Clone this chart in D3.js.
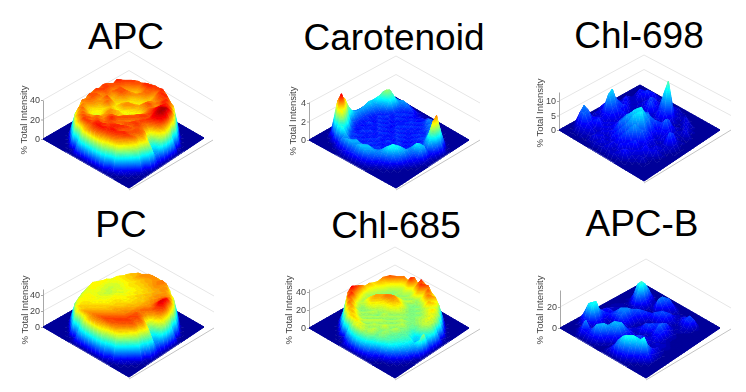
<!DOCTYPE html>
<html>
<head>
<meta charset="utf-8">
<script src="https://cdn.jsdelivr.net/npm/d3@7"></script>
<style>
  html, body { margin: 0; background: #fff; }
  svg { display: block; }
</style>
</head>
<body>
<div id="chart"></div>
<script>
// Heights, one row per line: back-right edge first, front-left edge last
const gridApc = [
  [0,0,0,0,0,0,0,0,0,0,0,0,0,0,0,0,0,0,0,0,0,0,0,0],
  [0,0,0,0,0,0,0,0,0,0,0,0,0,0,0,0,0,0,0,0,0,0,0,0],
  [0,0,0,0,0,0,0,0,0,8,18,26,30,30,26,18,8,0,0,0,0,0,0,0],
  [0,0,0,0,0,0,0,2,6,30,35,36,37,37,38,35,30,6,2,0,0,0,0,0],
  [0,0,0,0,0,1,4,30,36,36,38,38,36,33,37,38,38,34,31,5,1,0,0,0],
  [0,0,0,0,1,4,30,37,36,33,33,35,35,31,34,36,36,38,34,30,4,1,0,0],
  [0,0,0,0,3,28,37,35,33,30,31,34,33,30,32,33,35,38,38,36,30,4,0,0],
  [0,0,0,2,22,38,36,33,31,33,33,31,29,31,34,34,32,35,39,39,37,26,2,0],
  [0,0,0,3,30,36,35,36,36,34,30,29,28,30,35,36,34,36,40,41,42,30,3,0],
  [0,0,1,20,36,36,33,36,36,33,29,28,31,32,32,33,35,37,40,43,44,38,20,0],
  [0,0,2,26,37,37,34,32,32,30,31,33,33,30,28,29,34,36,38,42,44,40,26,0],
  [0,0,3,30,35,37,35,31,30,28,32,33,29,27,28,31,33,36,36,40,41,38,28,0],
  [0,0,4,32,37,33,33,36,34,29,28,28,27,28,31,32,36,37,35,38,36,32,22,0],
  [0,0,4,30,35,36,32,33,35,31,29,31,30,30,33,35,36,34,37,34,26,16,12,0],
  [0,0,3,28,36,36,33,31,29,31,33,32,30,32,35,36,33,36,36,34,24,14,10,0],
  [0,0,2,26,33,35,33,29,28,30,33,33,32,34,36,34,34,37,37,35,34,26,20,0],
  [0,0,1,22,34,33,30,28,26,28,32,34,36,36,34,35,36,34,35,36,35,31,16,0],
  [0,0,0,3,28,34,31,29,28,30,32,33,36,38,35,33,35,37,35,36,33,24,3,0],
  [0,0,0,2,24,33,35,32,31,33,35,33,34,36,36,37,38,35,36,35,35,22,2,0],
  [0,0,0,0,4,28,33,35,34,33,35,36,35,34,37,38,37,36,38,37,26,3,0,0],
  [0,0,0,0,1,4,30,34,36,36,34,36,38,38,36,38,39,38,36,28,4,1,0,0],
  [0,0,0,0,0,1,4,28,33,37,37,36,38,39,39,37,36,34,28,5,1,0,0,0],
  [0,0,0,0,0,0,0,2,5,20,30,32,34,34,32,28,20,5,2,0,0,0,0,0],
  [0,0,0,0,0,0,0,0,0,0,0,0,0,0,0,0,0,0,0,0,0,0,0,0]
];

const gridCarotenoid = [
  [0,0,0,0,0,0,0,0,0,0,0,0,0,0,0,0,0,0,0,0,0,0,0,0],
  [0,0,0,0,0,0,0,0,.1,.1,.2,.2,.1,.2,.1,0,0,0,0,0,0,0,0,0],
  [0,0,0,0,0,.1,.3,.6,.8,.6,.4,.3,.2,.3,.4,.4,.2,0,0,0,0,0,0,0],
  [0,0,0,0,.3,.9,1.2,1.4,1.2,.9,.6,.5,.6,.7,1,1.1,.8,.3,0,0,0,0,0,0],
  [0,0,0,.3,1.2,1.6,1.4,1.1,.8,.6,.8,.5,.7,.6,.9,1.3,1.2,1.1,.4,0,0,0,0,0],
  [0,0,.1,1,2,2.6,2.2,1,.6,.9,.5,.8,.6,.8,.6,.9,1.2,1.4,1.5,1,.3,0,0,0],
  [0,0,.3,1.3,2.4,2.8,2,.8,.9,.6,.8,.6,.9,.5,.8,.7,.9,1.1,1.6,2.2,1.8,.4,0,0],
  [0,0,.5,1.5,2.2,1.6,1,.7,.6,.9,.6,.8,.5,.9,.6,.8,.6,.8,1.3,2,2.9,2.4,.3,0],
  [0,0,.7,1.7,1.4,.9,.6,.9,.7,.5,.8,.6,.9,.6,.8,.5,.9,.6,1,1.5,2.8,4,1.4,0],
  [0,.1,1,1.8,1.2,.7,.9,.6,.8,.7,.5,.9,.6,.8,.5,.8,.6,.9,.8,1.1,2.2,3.6,1.2,0],
  [0,.1,1.1,1.6,1,.6,.7,.9,.5,.8,.6,.7,.9,.5,.8,.6,.8,.6,.7,.9,1.4,1.8,.7,0],
  [0,.2,1.1,1.5,.9,.8,.5,.7,.9,.6,.8,.5,.7,.9,.6,.8,.5,.8,.6,.8,.9,.8,.3,0],
  [0,.2,1.2,1.4,.9,.6,.9,.6,.7,.9,.5,.8,.6,.8,.9,.5,.7,.6,.8,1,1.6,1.6,.3,0],
  [0,.2,1.4,1.5,.8,.7,.5,.8,.6,.7,.9,.6,.8,.5,.7,.9,.6,.8,.7,1.4,1.9,1.4,.2,0],
  [0,.1,1.8,1.9,.9,.6,.8,.5,.9,.6,.7,.8,.5,.9,.6,.7,.8,.6,1,1.3,1.1,.6,.1,0],
  [0,.1,2.4,2.6,1.1,.7,.6,.9,.6,.8,.5,.9,.7,.6,.8,.6,.7,.9,1.2,1.4,.8,.3,0,0],
  [0,0,2.8,3.6,1.8,.9,.7,.6,.8,.5,.9,.6,.8,.7,.5,.8,.9,1.3,1.8,1.5,.5,.1,0,0],
  [0,0,2,4.2,3.6,1.4,.8,.9,.6,.8,.6,.9,.6,.9,.7,.9,1.3,2,1.9,1.1,.2,0,0,0],
  [0,0,.6,3.8,4.8,2.8,1.1,.7,.9,.6,.8,.6,.9,.7,.9,1.2,1.7,2,1.3,.4,0,0,0,0],
  [0,0,.1,1.2,3.4,3.4,1.8,1,.8,.9,.7,.9,1,1.1,1.2,1.3,1.4,1,.5,.1,0,0,0,0],
  [0,0,0,.1,.7,2,2.2,1.6,1.2,1.3,1.6,1.4,1.5,1.7,1.5,1.2,.7,.3,.1,0,0,0,0,0],
  [0,0,0,0,0,.2,.7,1.3,1.5,1.6,1.4,1.5,1.7,1.5,1,.6,.2,0,0,0,0,0,0,0],
  [0,0,0,0,0,0,0,.2,.4,.6,.7,.8,.6,.5,.3,.1,0,0,0,0,0,0,0,0],
  [0,0,0,0,0,0,0,0,0,0,0,0,0,0,0,0,0,0,0,0,0,0,0,0]
];

const gridChl698 = [
  [0,0,0,0,0,0,0,0,0,0,0,0,0,0,0,0,0,0,0,0,0,0,0,0],
  [0,0,0,0,0,0,0,0,0,0,0,0,0,0,0,0,0,0,0,0,0,0,0,0],
  [0,0,0,0,0,1,2,1,2,1,0,1,0,2,1,1,0,0,0,0,0,0,0,0],
  [0,0,0,1,2,3,2,4,1,2,0,2,3,1,2,0,2,1,0,0,0,0,0,0],
  [0,0,0,2,4,2,5,2,1,3,1,4,2,4,1,2,0,3,2,1,0,0,0,0],
  [0,0,0,1,2,4,1,3,2,5,3,2,5,7,3,1,1,0,3,1,1,0,0,0],
  [0,0,1,2,1,2,1,3,1,6,4,3,4,11,15,3,0,1,1,3,0,0,0,0],
  [0,0,0,3,2,1,2,0,3,4,6,2,4,5,5,2,1,2,0,2,3,1,0,0],
  [0,0,1,2,4,2,1,2,1,2,3,1,2,3,1,2,3,1,2,1,1,0,0,0],
  [0,0,2,1,3,4,2,1,2,0,2,3,1,2,3,1,4,6,1,2,0,1,0,0],
  [0,0,1,4,2,3,4,1,0,3,1,4,6,3,4,2,5,7,4,1,2,0,0,0],
  [0,0,3,2,6,3,5,1,3,1,2,5,4,7,5,6,2,4,3,1,5,2,0,0],
  [0,0,2,5,4,7,3,4,1,2,4,6,8,5,8,3,4,1,3,1,6,2,0,0],
  [0,0,3,4,7,11,6,2,3,2,3,7,5,9,7,8,3,2,0,2,2,1,0,0],
  [0,0,1,3,4,10,5,3,1,4,5,4,9,8,12,6,5,3,2,0,2,0,0,0],
  [0,0,2,1,3,4,3,1,3,2,4,8,6,11,8,12,6,3,1,3,1,1,0,0],
  [0,0,0,2,1,3,2,3,1,4,6,4,9,6,11,7,7,4,2,2,3,0,0,0],
  [0,0,1,3,2,4,3,1,3,2,3,7,4,8,5,9,3,2,4,3,1,0,0,0],
  [0,0,3,6,4,2,5,3,1,3,4,2,6,3,7,3,5,2,3,1,0,0,0,0],
  [0,0,5,8,7,4,2,1,3,1,2,4,2,5,2,4,1,3,2,2,0,0,0,0],
  [0,0,2,6,7,4,3,2,1,3,1,2,3,2,4,1,3,2,1,0,0,0,0,0],
  [0,0,0,2,3,2,1,2,3,1,3,1,3,1,2,3,4,1,0,0,0,0,0,0],
  [0,0,0,0,0,1,0,1,1,2,1,2,1,2,2,1,0,0,0,0,0,0,0,0],
  [0,0,0,0,0,0,0,0,0,0,0,0,0,0,0,0,0,0,0,0,0,0,0,0]
];

const gridPc = [
  [0,0,0,0,0,0,0,0,0,0,0,0,0,0,0,0,0,0,0,0,0,0,0,0],
  [0,0,0,0,0,0,0,0,0,0,0,0,0,0,0,0,0,0,0,0,0,0,0,0],
  [0,0,0,0,0,0,0,0,0,8,20,30,37,37,30,20,8,0,0,0,0,0,0,0],
  [0,0,0,0,0,0,0,2,6,36,41,42,42,41,43,42,36,6,2,0,0,0,0,0],
  [0,0,0,0,0,1,4,36,40,41,42,41,41,42,43,41,42,38,34,5,1,0,0,0],
  [0,0,0,0,1,4,36,39,39,41,39,40,40,41,42,41,42,41,40,34,4,1,0,0],
  [0,0,0,0,3,32,37,38,38,37,38,38,39,39,40,40,40,42,42,42,34,4,0,0],
  [0,0,0,2,24,36,36,36,36,37,37,37,37,38,38,40,41,42,43,45,42,28,2,0],
  [0,0,0,3,32,35,34,34,35,36,35,36,37,37,39,39,41,41,44,47,49,34,3,0],
  [0,0,1,22,35,34,33,33,33,34,35,36,36,38,38,39,40,42,43,47,51,42,22,0],
  [0,0,2,28,36,33,32,33,34,33,35,35,37,37,38,38,40,41,43,47,52,46,28,0],
  [0,0,3,34,36,34,32,32,33,35,35,36,36,37,38,39,40,41,42,44,47,44,32,0],
  [0,0,4,36,36,34,33,32,33,35,36,36,36,37,38,39,40,42,43,44,42,38,26,0],
  [0,0,4,34,36,35,33,33,34,35,36,37,37,38,39,39,41,42,44,42,30,20,14,0],
  [0,0,3,32,35,35,34,34,35,35,36,37,38,38,39,41,41,43,43,42,26,16,12,0],
  [0,0,2,30,35,35,35,35,35,36,36,37,38,39,40,41,42,43,45,44,40,34,24,0],
  [0,0,1,26,34,36,36,35,36,36,37,38,39,40,40,42,42,44,45,46,44,38,20,0],
  [0,0,0,3,32,35,36,36,36,37,38,38,39,40,41,42,43,44,46,45,42,30,3,0],
  [0,0,0,2,28,36,36,37,37,38,38,39,40,41,42,43,44,45,46,46,44,28,2,0],
  [0,0,0,0,4,32,36,37,38,38,39,40,41,42,43,44,45,46,46,44,32,3,0,0],
  [0,0,0,0,1,4,35,38,38,39,40,41,42,43,44,45,46,46,44,34,4,1,0,0],
  [0,0,0,0,0,1,4,34,38,40,41,42,43,44,45,46,45,42,34,5,1,0,0,0],
  [0,0,0,0,0,0,0,2,6,22,32,38,40,40,38,32,22,6,2,0,0,0,0,0],
  [0,0,0,0,0,0,0,0,0,0,0,0,0,0,0,0,0,0,0,0,0,0,0,0]
];

const gridChl685 = [
  [0,0,0,0,0,0,0,0,0,0,0,0,0,0,0,0,0,0,0,0,0,0,0,0],
  [0,0,0,0,0,0,0,0,0,0,0,0,0,0,0,0,0,0,0,0,0,0,0,0],
  [0,0,0,0,0,0,0,0,0,6,14,22,28,28,22,14,6,0,0,0,0,0,0,0],
  [0,0,0,0,0,0,0,2,5,26,34,29,36,30,34,28,26,5,2,0,0,0,0,0],
  [0,0,0,0,0,1,3,26,33,30,36,27,33,36,30,34,29,30,24,4,1,0,0,0],
  [0,0,0,0,1,3,28,33,27,25,27,24,26,30,25,30,33,27,28,22,3,1,0,0],
  [0,0,0,0,3,26,34,27,24,23,24,22,24,23,22,24,26,30,26,26,22,3,0,0],
  [0,0,0,2,20,32,28,24,22,23,22,23,21,24,22,21,23,24,26,28,24,18,2,0],
  [0,0,0,3,26,30,26,23,21,23,23,22,24,22,21,22,21,23,24,26,26,22,3,0],
  [0,0,1,16,28,27,24,22,23,25,26,28,26,24,22,21,22,21,23,24,26,24,14,0],
  [0,0,2,20,30,26,23,23,26,29,31,32,30,27,23,22,21,22,23,24,25,24,18,0],
  [0,0,3,24,29,25,22,25,29,31,33,31,29,26,24,22,22,21,22,23,24,22,16,0],
  [0,0,3,26,32,24,23,27,31,30,28,27,26,24,22,23,21,22,21,20,21,18,12,0],
  [0,0,3,24,34,26,22,28,30,27,25,24,23,22,23,22,24,22,21,18,14,14,22,0],
  [0,0,2,22,36,28,23,25,27,26,23,22,24,23,21,23,22,24,22,19,14,10,18,0],
  [0,0,1,20,38,31,24,22,23,22,24,21,23,22,23,21,23,22,21,20,18,14,10,0],
  [0,0,0,2,34,36,26,22,21,23,22,23,21,24,22,23,21,24,20,19,17,12,2,0],
  [0,0,0,1,18,35,32,24,23,22,23,21,24,22,23,25,22,21,20,18,14,8,1,0],
  [0,0,0,0,3,22,33,31,26,23,22,24,22,24,22,21,23,20,19,16,9,2,0,0],
  [0,0,0,0,1,3,24,30,30,27,25,22,23,22,24,21,22,20,17,10,3,1,0,0],
  [0,0,0,0,0,1,3,20,28,29,28,26,24,23,24,20,19,14,8,3,1,0,0,0],
  [0,0,0,0,0,0,0,2,5,18,24,26,25,22,20,15,8,3,1,0,0,0,0,0],
  [0,0,0,0,0,0,0,0,0,5,10,14,15,14,10,6,3,0,0,0,0,0,0,0],
  [0,0,0,0,0,0,0,0,0,0,0,0,0,0,0,0,0,0,0,0,0,0,0,0]
];

const gridApcB = [
  [0,0,0,0,0,0,0,0,0,0,0,0,0,0,0,0,0,0,0,0,0,0,0,0],
  [0,0,0,0,0,0,0,0,0,0,0,0,0,0,0,0,0,0,0,0,0,0,0,0],
  [0,0,0,1,1,2,1,0,1,2,3,4,2,1,0,1,0,0,0,0,0,0,0,0],
  [0,0,1,0,2,4,2,1,3,6,9,11,7,3,1,2,3,2,1,0,0,0,0,0],
  [0,0,0,2,4,10,13,3,1,8,13,9,4,1,3,2,5,6,10,9,2,0,0,0],
  [0,0,1,1,7,18,20,6,2,4,13,5,1,3,5,2,3,7,9,6,1,0,0,0],
  [0,0,0,2,9,20,24,9,2,1,3,1,3,6,9,4,1,2,4,2,1,0,0,0],
  [0,0,1,0,3,9,15,5,2,1,2,4,7,11,8,3,2,1,2,1,0,0,0,0],
  [0,0,0,1,1,3,4,2,1,3,4,7,10,7,3,2,4,2,1,0,1,0,0,0],
  [0,0,1,2,1,1,2,3,5,8,9,4,2,3,4,6,9,4,2,1,0,0,0,0],
  [0,0,2,1,3,1,2,5,9,11,6,2,1,2,6,9,11,6,3,1,1,0,0,0],
  [0,0,1,3,2,1,3,6,11,8,3,1,3,6,9,7,12,8,2,1,0,0,0,0],
  [0,0,2,4,3,2,6,12,14,7,2,1,5,9,10,5,9,7,3,2,1,0,0,0],
  [0,0,3,6,7,5,10,14,13,7,2,3,4,7,3,2,5,6,2,3,2,0,0,0],
  [0,0,3,6,4,7,9,10,11,5,3,4,2,2,3,4,3,3,4,3,1,0,0,0],
  [0,0,2,8,9,4,2,4,5,3,3,6,5,3,6,7,5,2,3,4,2,0,0,0],
  [0,0,6,13,12,5,2,1,2,3,8,10,8,5,7,10,8,3,2,5,3,1,0,0],
  [0,0,11,19,22,8,2,1,4,9,14,16,9,5,5,8,4,2,4,8,4,1,0,0],
  [0,1,11,20,20,7,2,3,6,12,17,15,7,3,3,2,3,5,10,13,5,1,0,0],
  [0,0,4,8,6,2,2,4,8,13,14,8,3,2,2,2,7,12,18,22,9,1,0,0],
  [0,0,1,2,4,5,2,6,14,17,7,2,1,3,6,10,16,22,17,8,2,0,0,0],
  [0,0,0,2,6,14,7,10,16,9,2,1,2,8,14,19,22,14,5,1,0,0,0,0],
  [0,0,0,0,2,7,5,6,5,2,1,1,3,6,11,13,8,3,1,0,0,0,0,0],
  [0,0,0,0,0,0,0,0,0,0,0,0,0,0,0,0,0,0,0,0,0,0,0,0]
];

// Titles and z axis ticks of the six panels
const titles = ['APC', 'Carotenoid', 'Chl-698', 'PC', 'Chl-685', 'APC-B'];
const tickApc = [0, 20, 40];
const tickCarotenoid = [0, 2, 4];
const tickChl698 = [0, 5, 10];
const tickPc = [0, 20, 40];
const tickChl685 = [0, 20, 40];
const tickApcB = [0, 20];
const yLabel = '% Total Intensity';

const width = 746, height = 392;

// Layout of each panel: corners of the surface, corners of the axes box, z scale and color limit
const panels = [
  { title: titles[0], grid: gridApc, ticks: tickApc, cmax: 46, zTop: 40, zPx: 39,
    L: [43,139], F: [129,188], R: [204,138], B: [124,92], boxR: [213,140], boxB: [129,90],
    axisTop: 100, tx: 126, ty: 49, lx: 24, ly: 120 },
  { title: titles[1], grid: gridCarotenoid, ticks: tickCarotenoid, cmax: 5.5, zTop: 4, zPx: 37,
    L: [309,140], F: [396,188], R: [469,140], B: [390,94], boxR: [480,140], boxB: [396,93],
    axisTop: 102, tx: 394, ty: 50, lx: 293, ly: 121 },
  { title: titles[2], grid: gridChl698, ticks: tickChl698, cmax: 34, zTop: 10, zPx: 29,
    L: [559,130], F: [644,181], R: [720,130], B: [640,85], boxR: [731,130], boxB: [644,84],
    axisTop: 92, tx: 639, ty: 48, lx: 540, ly: 113 },
  { title: titles[3], grid: gridPc, ticks: tickPc, cmax: 58, zTop: 40, zPx: 32,
    L: [43,327], F: [129,377], R: [204,327], B: [124,281], boxR: [214,328], boxB: [129,280],
    axisTop: 289, tx: 121, ty: 237, lx: 25, ly: 310 },
  { title: titles[4], grid: gridChl685, ticks: tickChl685, cmax: 44, zTop: 40, zPx: 36,
    L: [309,328], F: [395,378], R: [469,328], B: [390,282], boxR: [480,329], boxB: [395,283],
    axisTop: 289, tx: 396, ty: 238, lx: 289, ly: 310 },
  { title: titles[5], grid: gridApcB, ticks: tickApcB, cmax: 58, zTop: 20, zPx: 21,
    L: [560,328], F: [646,378], R: [720,328], B: [642,283], boxR: [731,329], boxB: [646,280],
    axisTop: 290, tx: 642, ty: 236, lx: 540, ly: 310 }
];

const svg = d3.select('#chart').append('svg')
    .attr('width', width)
    .attr('height', height);

// Slight blur, the reference is a soft screenshot
svg.append('filter').attr('id', 'soft')
    .attr('x', '-5%').attr('y', '-5%').attr('width', '110%').attr('height', '110%')
  .append('feGaussianBlur').attr('stdDeviation', 0.7);
svg.append('filter').attr('id', 'softText')
  .append('feGaussianBlur').attr('stdDeviation', 0.45);

// MATLAB jet colormap
const jet = d3.scaleLinear()
    .domain([0, 0.11, 0.36, 0.61, 0.86, 1])
    .range(['#00008f', '#0000ff', '#00ffff', '#ffff00', '#ff0000', '#800000'])
    .clamp(true);

const pathOf = pts => 'M' + pts.map(p => `${p[0].toFixed(2)},${p[1].toFixed(2)}`).join('L') + 'Z';

// Keep the part of a polygon on one side of a height level, points are [x, y, z]
function clipZ(poly, level, keepAbove) {
    const out = [];
    poly.forEach((p, i) => {
        const q = poly[(i + 1) % poly.length];
        const pIn = keepAbove ? p[2] >= level : p[2] <= level;
        const qIn = keepAbove ? q[2] >= level : q[2] <= level;
        if (pIn) out.push(p);
        if (pIn !== qIn) {
            const t = (level - p[2]) / (q[2] - p[2]);
            out.push([p[0] + (q[0] - p[0]) * t, p[1] + (q[1] - p[1]) * t, level]);
        }
    });
    return out;
}

function drawPanel(panel) {
    const g = svg.append('g');
    const n = panel.grid.length;

    const rowScale = d3.scaleLinear().domain([0, n - 1]).range([0, 1]);
    const colScale = d3.scaleLinear().domain([0, n - 1]).range([0, 1]);
    const zScale = d3.scaleLinear().domain([0, panel.zTop]).range([0, panel.zPx]);

    // Back walls and their gridlines
    const walls = g.append('g').attr('fill', 'none').attr('stroke', '#e6e6e6').attr('filter', 'url(#softText)');
    panel.ticks.filter(t => t > 0).forEach(t => {
        const dy = zScale(t);
        walls.append('path').attr('d', `M${panel.L[0]},${panel.L[1] - dy}L${panel.boxB[0]},${panel.boxB[1] - dy}L${panel.boxR[0]},${panel.boxR[1] - dy}`);
    });
    walls.append('path')
        .attr('stroke', '#c4c4c4')
        .attr('d', `M${panel.boxR[0]},${panel.boxR[1]}L${panel.F[0]},${panel.F[1] + 2}`);

    // z axis
    const yAxisScale = d3.scaleLinear()
        .domain([0, zScale.invert(panel.L[1] - panel.axisTop)])
        .range([panel.L[1], panel.axisTop]);
    const axisG = g.append('g')
        .attr('transform', `translate(${panel.L[0]},0)`)
        .attr('filter', 'url(#softText)')
        .call(d3.axisLeft(yAxisScale).tickValues(panel.ticks).tickFormat(d3.format('d')).tickSize(2).tickPadding(1).tickSizeOuter(0));
    axisG.select('.domain').attr('stroke', '#a8a8a8');
    axisG.selectAll('line').attr('stroke', '#a8a8a8');
    axisG.selectAll('text')
        .attr('fill', '#444')
        .attr('font-family', 'Liberation Sans, Arial, sans-serif')
        .attr('font-size', '9px');

    g.append('text')
        .attr('transform', `translate(${panel.lx},${panel.ly}) rotate(-90)`)
        .attr('text-anchor', 'middle')
        .attr('dy', '0.35em')
        .attr('fill', '#444')
        .attr('filter', 'url(#softText)')
        .attr('font-family', 'Liberation Sans, Arial, sans-serif')
        .attr('font-size', '9.5px')
        .text(yLabel);

    const project = (r, c) => {
        const u = colScale(c), v = rowScale(r);
        const z = panel.grid[r][c] ?? 0;
        const x = (1 - u) * (1 - v) * panel.B[0] + u * (1 - v) * panel.R[0] + (1 - u) * v * panel.L[0] + u * v * panel.F[0];
        const y = (1 - u) * (1 - v) * panel.B[1] + u * (1 - v) * panel.R[1] + (1 - u) * v * panel.L[1] + u * v * panel.F[1];
        return [x, y - zScale(z), z];
    };

    // Cut every triangle into height bands so the color runs smoothly up the walls
    const step = panel.cmax / 48;
    const pieces = [];
    const addTriangle = tri => {
        const lo = d3.min(tri, p => p[2]), hi = d3.max(tri, p => p[2]);
        const first = Math.floor(lo / step), last = Math.ceil(hi / step);
        for (let k = first; k < Math.max(last, first + 1); k++) {
            let poly = clipZ(tri, k * step, true);
            if (poly.length) poly = clipZ(poly, (k + 1) * step, false);
            if (poly.length < 3) continue;
            const fill = jet((k + 0.5) * step / panel.cmax);
            pieces.push({ d: pathOf(poly), fill: fill, stroke: fill, width: 0.7, opacity: 1 });
        }
    };

    // Navy floor under the whole surface
    const floor = [panel.B, panel.R, panel.F, panel.L];
    pieces.push({ d: pathOf(floor), fill: jet(0), stroke: jet(0), width: 0.7, opacity: 1 });

    for (let r = 0; r < n - 1; r++) {
        for (let c = 0; c < n - 1; c++) {
            const a = project(r, c), b = project(r, c + 1), d = project(r + 1, c), e = project(r + 1, c + 1);
            addTriangle([a, b, d]);
            addTriangle([b, e, d]);
            // Pale mesh shows through where the low surface is bumpy
            const zs = [a[2], b[2], d[2], e[2]];
            const mean = d3.mean(zs) / panel.cmax, spread = (d3.max(zs) - d3.min(zs)) / panel.cmax;
            if (spread > 0.04 && mean < 0.4) {
                pieces.push({ d: `M${b[0]},${b[1]}L${e[0]},${e[1]}L${d[0]},${d[1]}`, fill: 'none', stroke: '#d6e0ff', width: 0.7, opacity: 0.5 });
            }
        }
    }

    g.append('g')
        .attr('filter', 'url(#soft)')
      .selectAll('path')
      .data(pieces)
      .join('path')
        .attr('d', d => d.d)
        .attr('fill', d => d.fill)
        .attr('stroke', d => d.stroke)
        .attr('stroke-width', d => d.width)
        .attr('stroke-opacity', d => d.opacity);

    g.append('text')
        .attr('x', panel.tx)
        .attr('y', panel.ty)
        .attr('text-anchor', 'middle')
        .attr('fill', '#000')
        .attr('font-family', 'Liberation Sans, Arial, sans-serif')
        .attr('font-size', '37px')
        .text(panel.title);
}

panels.forEach(drawPanel);
</script>
</body>
</html>
